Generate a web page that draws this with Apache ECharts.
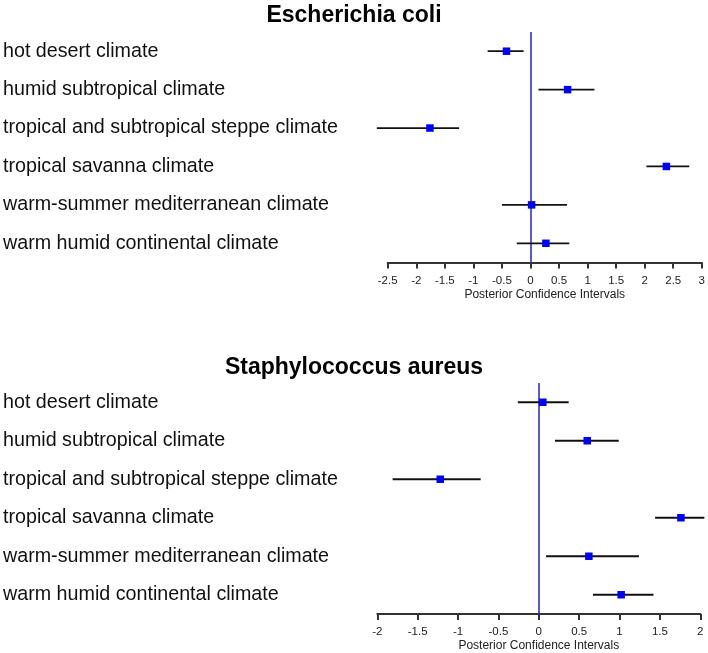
<!DOCTYPE html>
<html>
<head>
<meta charset="utf-8">
<script src="https://cdn.jsdelivr.net/npm/echarts@6/dist/echarts.min.js"></script>
<style>
  html, body { margin: 0; padding: 0; background: #fff; }
  #chart { width: 708px; height: 653px; }
</style>
</head>
<body>
<div id="chart"></div>
<script>
var categories = [
  'hot desert climate',
  'humid subtropical climate',
  'tropical and subtropical steppe climate',
  'tropical savanna climate',
  'warm-summer mediterranean climate',
  'warm humid continental climate'
]

// Escherichia coli
var ecoliMean = [-0.42, 0.65, -1.76, 2.38, 0.02, 0.27]
var ecoliLow = [-0.75, 0.14, -2.69, 2.03, -0.5, -0.24]
var ecoliHigh = [-0.12, 1.12, -1.25, 2.78, 0.64, 0.68]

// Staphylococcus aureus
var saureusMean = [0.05, 0.6, -1.22, 1.76, 0.62, 1.02]
var saureusLow = [-0.26, 0.2, -1.81, 1.44, 0.09, 0.67]
var saureusHigh = [0.37, 0.99, -0.72, 2.05, 1.24, 1.42]

var ecoliTicks = { min: -2.5, max: 3, step: 0.5 }
var saureusTicks = { min: -2, max: 2, step: 0.5 }

var font = "'Liberation Sans', Arial, sans-serif"

function barRows(low, high) {
  var rows = []
  for (var i = 0; i < low.length; i++) {
    rows.push([low[i], high[i], i])
  }
  return rows
}

function pointRows(mean) {
  return mean.map(function (v, i) { return [v, i] })
}

function renderBar(params, api) {
  var y = api.value(2)
  var a = api.coord([api.value(0), y])
  var b = api.coord([api.value(1), y])
  return {
    type: 'line',
    shape: { x1: a[0], y1: a[1], x2: b[0], y2: b[1] },
    style: { stroke: '#111', lineWidth: 1.8 }
  }
}

function makeX(idx, ticks) {
  return {
    type: 'value',
    gridIndex: idx,
    min: ticks.min,
    max: ticks.max,
    interval: ticks.step,
    name: 'Posterior Confidence Intervals',
    nameLocation: 'middle',
    nameGap: 26,
    nameTextStyle: { fontSize: 12, color: '#222', fontFamily: font },
    splitLine: { show: false },
    axisLine: { show: true, onZero: false, lineStyle: { color: '#333', width: 2 } },
    axisTick: { show: true, length: 6, lineStyle: { color: '#333', width: 2 } },
    axisLabel: { fontSize: 11.5, color: '#222', margin: 12, fontFamily: font }
  }
}

function makeY(idx, margin) {
  return {
    type: 'category',
    gridIndex: idx,
    inverse: true,
    data: categories,
    axisLine: { show: false },
    axisTick: { show: false },
    splitLine: { show: false },
    axisLabel: {
      align: 'left',
      margin: margin,
      fontSize: 19.7,
      color: '#111',
      fontFamily: font
    }
  }
}

function makeSeries(idx, low, high, mean) {
  return [{
    type: 'custom',
    xAxisIndex: idx,
    yAxisIndex: idx,
    clip: false,
    renderItem: renderBar,
    encode: { x: [0, 1], y: 2 },
    data: barRows(low, high),
    z: 2
  }, {
    type: 'scatter',
    xAxisIndex: idx,
    yAxisIndex: idx,
    clip: false,
    symbol: 'rect',
    symbolSize: 7.5,
    itemStyle: { color: '#0000ff', opacity: 1 },
    data: pointRows(mean),
    z: 4,
    markLine: {
      silent: true,
      symbol: 'none',
      label: { show: false },
      lineStyle: { color: '#2323b8', width: 1.5, type: 'solid' },
      data: [{ xAxis: 0 }],
      z: 1
    }
  }]
}

var chart = echarts.init(document.getElementById('chart'))
var option = {
  backgroundColor: '#fff',
  animation: false,
  title: [{
    text: 'Escherichia coli',
    left: 'center',
    top: 4,
    padding: 0,
    textStyle: { fontSize: 23, fontWeight: 'bold', color: '#000', fontFamily: font }
  }, {
    text: 'Staphylococcus aureus',
    left: 'center',
    top: 356,
    padding: 0,
    textStyle: { fontSize: 23, fontWeight: 'bold', color: '#000', fontFamily: font }
  }],
  grid: [
    { left: 387.7, top: 32, width: 317.3, height: 230.5 },
    { left: 377.3, top: 383, width: 323, height: 231 }
  ],
  xAxis: [makeX(0, ecoliTicks), makeX(1, saureusTicks)],
  yAxis: [makeY(0, 384.7), makeY(1, 374.3)],
  series: makeSeries(0, ecoliLow, ecoliHigh, ecoliMean)
    .concat(makeSeries(1, saureusLow, saureusHigh, saureusMean))
}
chart.setOption(option)
</script>
</body>
</html>
